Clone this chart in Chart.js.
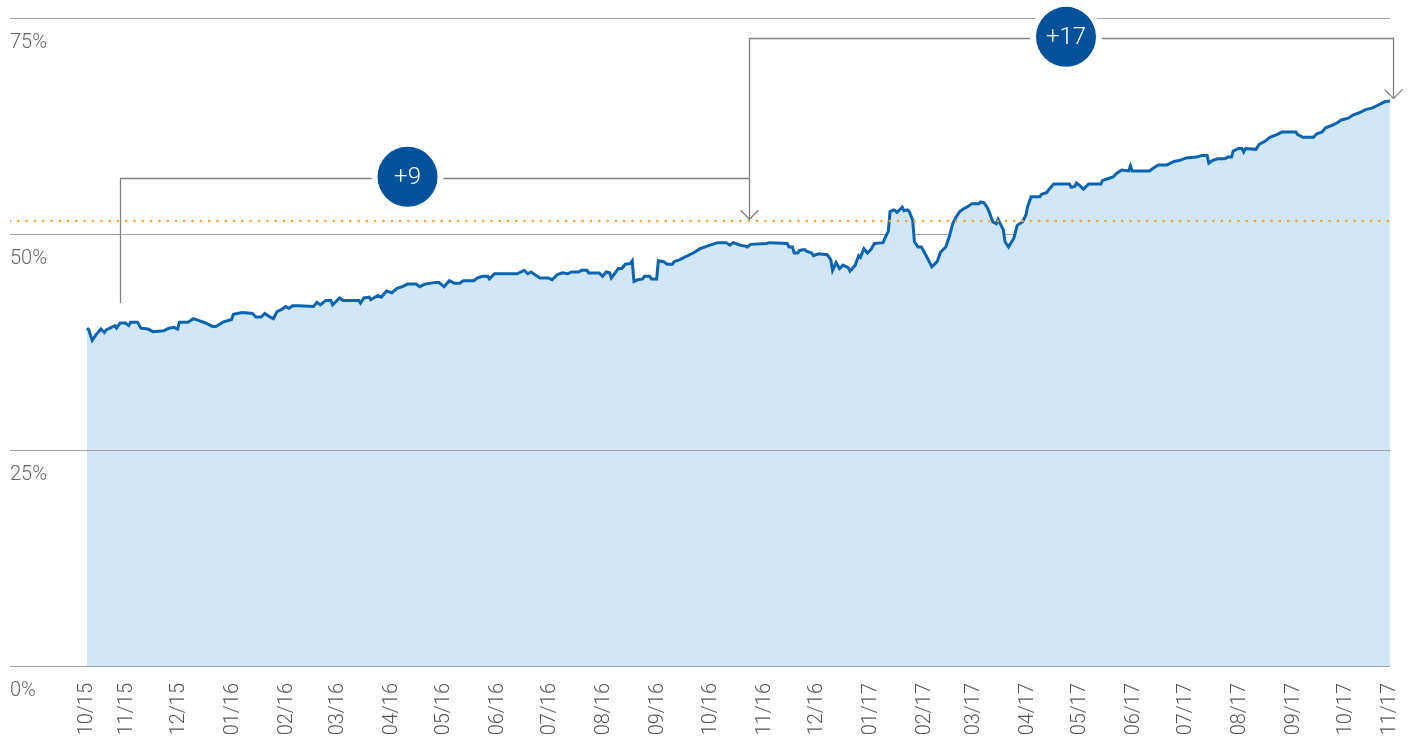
<!DOCTYPE html>
<html>
<head>
<meta charset="utf-8">
<script src="https://cdn.jsdelivr.net/npm/chart.js@4.4.1/dist/chart.umd.min.js"></script>
<style>
  html, body { margin: 0; padding: 0; background: #ffffff; }
  #wrap { width: 1415px; height: 738px; }
</style>
</head>
<body>
<div id="wrap"><canvas id="c" width="1415" height="738"></canvas></div>
<script>
// ---- data (x = days since 2015-10-01, y = percent) ----
const days = [8,9,11,13,16,18,19,22,24,25,27,30,32,33,37,39,43,46,52,55,58,60,61,66,69,72,76,80,82,86,91,92,97,103,105,108,110,113,115,117,120,122,124,126,130,
138,140,142,145,148,149,153,155,164,165,167,170,171,175,177,180,183,186,189,192,197,199,202,208,210,213,216,219,222,224,230,232,235,238,239,242,255,257,
259,261,263,265,268,273,275,278,281,284,286,290,292,295,296,302,304,306,308,309,313,315,317,320,321,322,324,327,328,331,332,335,336,339,341,344,345,348,352,356,360,364,367,370,375,377,379,383,
386,387,389,398,400,410,411,413,414,416,417,420,421,424,425,428,433,435,436,438,440,442,445,446,449,451,452,454,456,458,460,465,466,468,469,471,472,473,475,476,477,479,480,482,483,485,487,490,493,496,498,501,503,505,507,509,
511,513,516,520,521,523,525,526,528,530,531,534,535,537,540,542,545,547,548,550,555,556,559,560,563,572,573,575,576,578,580,583,590,591,594,597,599,602,606,607,608,618,620,623,628,632,635,
639,645,648,651,652,654,657,661,663,665,666,669,671,672,673,679,681,684,687,691,694,702,703,706,712,714,717,719,723,726,728,732,735,738,742,746,749,753,756];
const values = [39.1,38.9,37.7,38.3,39.0,38.6,38.9,39.2,39.4,39.1,39.7,39.7,39.4,39.8,39.8,39.1,39.0,38.7,38.8,39.1,39.2,39.0,39.8,39.8,40.2,40.0,39.7,39.3,39.3,39.8,40.1,40.7,40.9,40.8,40.4,40.4,40.8,40.4,40.2,41.0,41.3,41.6,41.4,41.7,41.7,
41.6,42.1,41.8,42.3,42.3,41.8,42.6,42.3,42.3,42.0,42.6,42.7,42.4,42.9,42.7,43.4,43.2,43.7,43.9,44.2,44.2,43.9,44.2,44.4,44.4,43.9,44.6,44.3,44.3,44.6,44.6,44.9,45.1,45.1,44.8,45.4,45.4,45.6,
45.8,45.4,45.6,45.3,44.9,44.9,44.7,45.3,45.5,45.4,45.6,45.6,45.8,45.8,45.5,45.5,45.1,45.6,45.5,44.9,46.0,46.0,46.5,46.6,46.9,44.5,44.7,44.8,45.1,45.1,44.8,44.8,46.9,46.8,46.5,46.5,46.8,47.0,47.4,47.8,48.3,48.6,48.8,49.0,49.0,48.7,49.0,48.7,
48.6,48.5,48.8,48.9,49.0,48.9,48.5,48.5,47.8,47.8,48.1,48.2,48.0,47.8,47.5,47.7,47.6,47.0,45.8,46.7,46.0,46.4,46.1,45.7,46.4,47.5,47.3,48.3,47.8,48.2,48.9,49.0,49.5,50.3,52.6,52.8,52.7,52.5,52.9,53.1,52.7,52.8,52.6,51.6,49.1,48.5,48.5,47.4,46.2,46.8,47.9,48.5,49.7,51.2,52.0,52.6,
52.9,53.1,53.5,53.5,53.7,53.6,53.0,52.5,51.4,51.2,51.7,50.5,49.1,48.5,49.5,51.0,51.4,52.2,53.2,54.3,54.3,54.6,54.8,55.1,55.8,55.8,55.4,55.5,55.9,55.6,55.2,55.8,55.8,56.2,56.4,56.6,57.0,57.4,57.3,57.9,57.3,57.3,57.6,58.0,58.0,58.4,58.5,
58.8,58.9,59.1,59.1,58.2,58.5,58.7,58.7,58.9,58.9,59.6,59.9,59.9,59.5,59.9,59.8,60.4,60.7,61.2,61.5,61.8,61.8,61.5,61.2,61.2,61.6,61.8,62.3,62.6,62.9,63.2,63.4,63.8,64.0,64.4,64.6,64.9,65.3,65.4];

const benchmark = 51.5;
const tickDays = [8,31,61,92,123,152,183,213,244,274,305,336,366,397,427,458,489,517,548,578,609,639,670,701,731,756];
const tickLabels = ['10/15','11/15','12/15','01/16','02/16','03/16','04/16','05/16','06/16','07/16','08/16','09/16','10/16','11/16','12/16','01/17','02/17','03/17','04/17','05/17','06/17','07/17','08/17','09/17','10/17','11/17'];
const yTicks = [0, 25, 50, 75];
const overlayGridTicks = [0, 25];

// annotation brackets (data units)
const brackets = [
  { x1: 27,  yStart: 42.0, yTop: 56.5, x2: 388, yArrow: 51.7, label: '+9',  labelX: 192 },
  { x1: 388, yStart: 56.5, yTop: 72.7, x2: 758, yArrow: 65.7, label: '+17', labelX: 570 }
];

const xMin = -36.2, xMax = 756;
const FONT = { family: 'Roboto', size: 20, weight: '300' };

const annotationPlugin = {
  id: 'brackets',
  afterDatasetsDraw(chart) {
    const { ctx, scales: { x, y } } = chart;
    ctx.save();
    ctx.strokeStyle = '#808080';
    ctx.lineWidth = 1.3;
    brackets.forEach(b => {
      const px1 = Math.round(x.getPixelForValue(b.x1)) + 0.5;
      const px2 = Math.round(x.getPixelForValue(b.x2)) + 0.5;
      const pyS = y.getPixelForValue(b.yStart);
      const pyT = Math.round(y.getPixelForValue(b.yTop)) + 0.5;
      const pyA = y.getPixelForValue(b.yArrow);
      ctx.beginPath();
      ctx.moveTo(px1, pyS);
      ctx.lineTo(px1, pyT);
      ctx.lineTo(px2, pyT);
      ctx.lineTo(px2, pyA);
      ctx.stroke();
      ctx.beginPath();
      ctx.moveTo(px2 - 9, pyA - 9);
      ctx.lineTo(px2, pyA);
      ctx.lineTo(px2 + 9, pyA - 9);
      ctx.stroke();
    });
    brackets.forEach(b => {
      const cx = x.getPixelForValue(b.labelX);
      const cy = y.getPixelForValue(b.yTop) - 1;
      ctx.beginPath();
      ctx.fillStyle = '#ffffff';
      ctx.arc(cx, cy, 36, 0, Math.PI * 2);
      ctx.fill();
      ctx.beginPath();
      ctx.fillStyle = '#03519b';
      ctx.arc(cx, cy, 30, 0, Math.PI * 2);
      ctx.fill();
      ctx.fillStyle = '#ffffff';
      ctx.font = '300 24px Roboto';
      ctx.textAlign = 'center';
      ctx.textBaseline = 'middle';
      ctx.fillText(b.label, cx, cy + 1);
    });
    ctx.restore();
  }
};

new Chart(document.getElementById('c'), {
  type: 'line',
  data: {
    datasets: [
      {
        data: days.map((d, i) => ({ x: d, y: values[i] })),
        borderColor: '#0a64b0',
        borderWidth: 3,
        backgroundColor: '#d1e6f6',
        fill: 'origin',
        pointRadius: 0,
        tension: 0,
        order: 2
      },
      {
        data: [{ x: xMin, y: benchmark }, { x: xMax, y: benchmark }],
        borderColor: '#f2a635',
        borderWidth: 2.6,
        borderDash: [0, 8.3],
        borderCapStyle: 'round',
        pointRadius: 0,
        fill: false,
        order: 1
      }
    ]
  },
  options: {
    responsive: false,
    animation: false,
    events: [],
    layout: { padding: { left: 10, right: 25, top: 18, bottom: 0 } },
    plugins: { legend: { display: false }, tooltip: { enabled: false } },
    scales: {
      x: {
        type: 'linear',
        min: xMin,
        max: xMax,
        afterBuildTicks: s => { s.ticks = tickDays.map(v => ({ value: v })); },
        afterFit: s => { s.height = 72; s.paddingLeft = 0; s.paddingRight = 0; },
        grid: { display: false, drawTicks: false },
        border: { display: false },
        ticks: {
          autoSkip: false,
          minRotation: 90,
          maxRotation: 90,
          padding: 17,
          color: '#555555',
          font: FONT,
          callback: (v, i) => tickLabels[i]
        }
      },
      y: {
        min: 0,
        max: 75,
        afterBuildTicks: s => { s.ticks = yTicks.map(v => ({ value: v })); },
        afterFit: s => { s.paddingTop = 0; s.paddingBottom = 0; },
        grid: { color: '#a3a3a3', lineWidth: 1, drawTicks: false },
        border: { display: false },
        ticks: {
          mirror: true,
          padding: 0,
          labelOffset: 25,
          color: '#666666',
          font: FONT,
          callback: v => v + '%'
        }
      },
      yOverlay: {
        axis: 'y',
        position: 'left',
        min: 0,
        max: 75,
        afterBuildTicks: s => { s.ticks = overlayGridTicks.map(v => ({ value: v })); },
        afterFit: s => { s.width = 0; s.paddingTop = 0; s.paddingBottom = 0; },
        grid: { color: '#a3a3a3', lineWidth: 1, drawTicks: false, z: 1 },
        border: { display: false },
        ticks: { display: false }
      }
    }
  },
  plugins: [annotationPlugin]
});
</script>
</body>
</html>
